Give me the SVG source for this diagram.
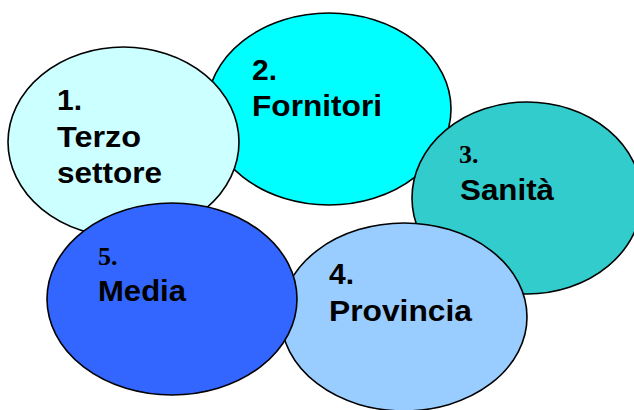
<svg xmlns="http://www.w3.org/2000/svg" width="634" height="410" viewBox="0 0 634 410">
<style>
.el{stroke:#000;stroke-width:1.6}
.t{font-family:"Liberation Sans",Arial,sans-serif;font-weight:bold;font-size:30px;fill:#000}
.n{font-family:"Liberation Serif","Times New Roman",serif;font-weight:bold;font-size:26px;fill:#000}
</style>
<rect width="634" height="410" fill="#fff"/>
<g id="node2">
<ellipse class="el" cx="329" cy="109" rx="122" ry="96" fill="#00FFFF"/>
<text class="t" x="252" y="80">2.</text>
<text class="t" x="252" y="116" textLength="130" lengthAdjust="spacingAndGlyphs">Fornitori</text>
</g>
<g id="node1">
<ellipse class="el" cx="123.5" cy="142" rx="115.5" ry="95" fill="#CCFFFF"/>
<text class="t" x="57" y="110">1.</text>
<text class="t" x="57" y="147" textLength="84" lengthAdjust="spacingAndGlyphs">Terzo</text>
<text class="t" x="57" y="183" textLength="105" lengthAdjust="spacingAndGlyphs">settore</text>
</g>
<g id="node3">
<ellipse class="el" cx="527" cy="198" rx="115" ry="96" fill="#33CCCC"/>
<text class="n" x="459" y="163">3.</text>
<text class="t" x="460" y="200" textLength="94" lengthAdjust="spacingAndGlyphs">Sanità</text>
</g>
<g id="node4">
<ellipse class="el" cx="404" cy="317" rx="123" ry="94" fill="#99CCFF"/>
<text class="t" x="329" y="284">4.</text>
<text class="t" x="329" y="321" textLength="143" lengthAdjust="spacingAndGlyphs">Provincia</text>
</g>
<g id="node5">
<ellipse class="el" cx="172" cy="299" rx="125" ry="96" fill="#3366FF"/>
<text class="n" x="98" y="265">5.</text>
<text class="t" x="98" y="301" textLength="88" lengthAdjust="spacingAndGlyphs">Media</text>
</g>
<g id="connectors"/>
</svg>
